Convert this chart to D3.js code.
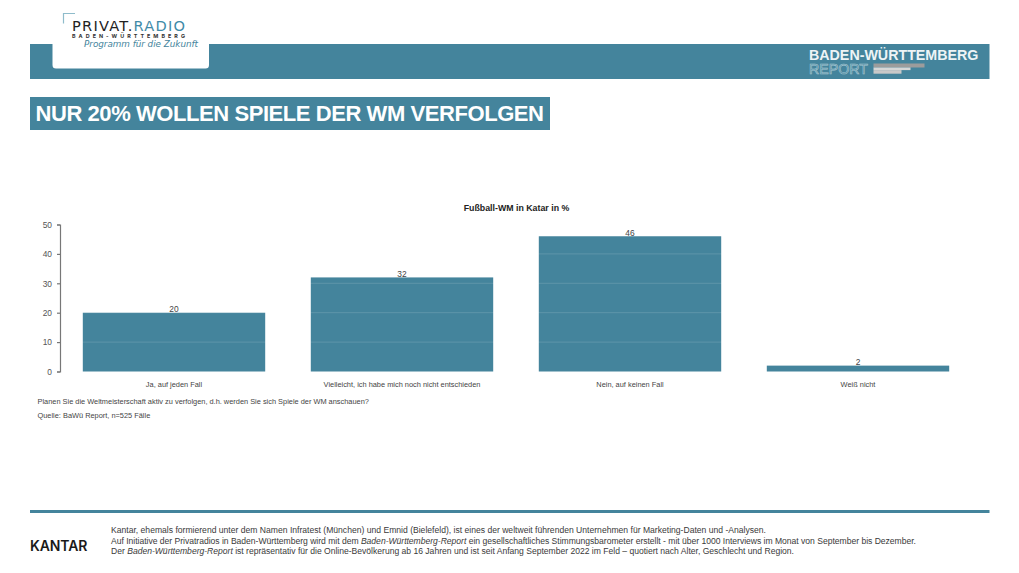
<!DOCTYPE html>
<html>
<head>
<meta charset="utf-8">
<script src="https://cdn.jsdelivr.net/npm/d3@7"></script>
<style>
  html, body { margin: 0; padding: 0; background: #fff; }
  svg { display: block; }
  text { font-family: "Liberation Sans", Arial, sans-serif; }
</style>
</head>
<body>
<svg id="chart" width="1019" height="573"></svg>
<script>
const categories = ["Ja, auf jeden Fall", "Vielleicht, ich habe mich noch nicht entschieden", "Nein, auf keinen Fall", "Weiß nicht"];
const percentages = [20, 32, 46, 2];
const yTicks = [0, 10, 20, 30, 40, 50];
const chartTitle = "Fußball-WM in Katar in %";
const headline = "NUR 20% WOLLEN SPIELE DER WM VERFOLGEN";
const question = "Planen Sie die Weltmeisterschaft aktiv zu verfolgen, d.h. werden Sie sich Spiele der WM anschauen?";
const source = "Quelle: BaWü Report, n=525 Fälle";
const footerLines = [
    [["Kantar, ehemals formierend unter dem Namen Infratest (München) und Emnid (Bielefeld), ist eines der weltweit führenden Unternehmen für Marketing-Daten und -Analysen.", false]],
    [["Auf Initiative der Privatradios in Baden-Württemberg wird mit dem ", false], ["Baden-Württemberg-Report", true], [" ein gesellschaftliches Stimmungsbarometer erstellt - mit über 1000 Interviews im Monat von September bis Dezember.", false]],
    [["Der ", false], ["Baden-Württemberg-Report", true], [" ist repräsentativ für die Online-Bevölkerung ab 16 Jahren und ist seit Anfang September 2022 im Feld – quotiert nach Alter, Geschlecht und Region.", false]]
];

const teal = "#44849c";
const svg = d3.select("#chart");

// page furniture
svg.append("rect").attr("x", 30).attr("y", 44).attr("width", 959.5).attr("height", 35).attr("fill", teal);
svg.append("path")
    .attr("d", "M52.5,44V65a3.5,3.5 0 0 0 3.5,3.5H205.5a3.5,3.5 0 0 0 3.5,-3.5V44Z")
    .attr("fill", "#fff");

// logo
svg.append("path").attr("d", "M63.5,23.5V13.5H75").attr("fill", "none").attr("stroke", "#8fbccb").attr("stroke-width", 1.2);
const logo = svg.append("text").attr("x", 72).attr("y", 30.5).attr("font-size", 14.6)
    .attr("textLength", 113).style("font-family", "DejaVu Sans");
logo.append("tspan").attr("fill", "#222").text("PRIVAT.");
logo.append("tspan").attr("fill", "#3f8ba8").text("RADIO");
svg.append("text").attr("x", 72).attr("y", 37.5).attr("font-size", 5.4).attr("font-weight", 700)
    .attr("fill", "#333").attr("textLength", 113).style("font-family", "Inter").text("BADEN-WÜRTTEMBERG");
svg.append("text").attr("x", 84).attr("y", 47).attr("font-size", 8.8).attr("font-style", "italic")
    .attr("fill", "#44849c").attr("textLength", 114).style("font-family", "DejaVu Sans").text("Programm für die Zukunft");

// report mark, right side of the band
svg.append("text").attr("x", 809).attr("y", 60).attr("font-size", 14.25).attr("font-weight", 700)
    .attr("fill", "#eef4f6").text("BADEN-WÜRTTEMBERG");
svg.append("text").attr("x", 809).attr("y", 73.5).attr("font-size", 14.2)
    .attr("fill", "none").attr("stroke", "#a9c8d3").attr("stroke-width", 0.6).text("REPORT");
svg.append("rect").attr("x", 873.5).attr("y", 63.5).attr("width", 51).attr("height", 4).attr("fill", "#9c9c9c");
svg.append("rect").attr("x", 873.5).attr("y", 67.5).attr("width", 37).attr("height", 2.6).attr("fill", "#d6d6d6");
svg.append("rect").attr("x", 873.5).attr("y", 70.1).attr("width", 28).attr("height", 3.6).attr("fill", "#c8c8c8");

// headline
svg.append("rect").attr("x", 30).attr("y", 97).attr("width", 520).attr("height", 33).attr("fill", teal);
svg.append("text").attr("x", 35.5).attr("y", 121).attr("font-size", 22).attr("font-weight", 700)
    .attr("textLength", 508.5).attr("fill", "#fff").text(headline);

// chart
const x = d3.scaleBand().domain(categories).range([60, 972]).paddingInner(0.2).paddingOuter(0.1);
const y = d3.scaleLinear().domain([0, 50]).range([371.5, 224.5]);

svg.append("text").attr("x", 516.5).attr("y", 210.5).attr("text-anchor", "middle")
    .attr("font-size", 8.8).attr("font-weight", 700).attr("fill", "#222").text(chartTitle);

svg.selectAll(".bar").data(percentages).join("rect")
    .attr("class", "bar")
    .attr("x", (d, i) => x(categories[i]))
    .attr("y", d => y(d))
    .attr("width", x.bandwidth())
    .attr("height", d => y(0) - y(d))
    .attr("fill", teal);

// the grid shows only on top of the bars, white on white elsewhere
svg.selectAll(".grid").data(yTicks.slice(1, -1)).join("line")
    .attr("class", "grid")
    .attr("x1", 60).attr("x2", 972)
    .attr("y1", d => y(d)).attr("y2", d => y(d))
    .attr("stroke", "#fff").attr("stroke-opacity", 0.14).attr("stroke-width", 1);

svg.selectAll(".value").data(percentages).join("text")
    .attr("class", "value")
    .attr("x", (d, i) => x(categories[i]) + x.bandwidth() / 2)
    .attr("y", d => y(d) - 0.5)
    .attr("text-anchor", "middle")
    .attr("font-size", 8.4).attr("fill", "#444")
    .text(d => d);

const yAxis = svg.append("g").attr("transform", "translate(60,0)")
    .call(d3.axisLeft(y).tickValues(yTicks).tickSize(3).tickSizeOuter(3).tickPadding(5));
yAxis.selectAll("path, line").attr("stroke", "#777").attr("stroke-width", 1.2);
yAxis.selectAll("text").attr("font-size", 8.4).attr("fill", "#555")
    .style("font-family", '"Liberation Sans"');

const xAxis = svg.append("g").attr("transform", "translate(0,371.5)")
    .call(d3.axisBottom(x).tickSize(0).tickPadding(10));
xAxis.select(".domain").remove();
xAxis.selectAll("text").attr("font-size", 7.4).attr("fill", "#444")
    .style("font-family", '"Liberation Sans"');

svg.append("text").attr("x", 37.5).attr("y", 404).attr("font-size", 7.4).attr("fill", "#444").text(question);
svg.append("text").attr("x", 37.5).attr("y", 418).attr("font-size", 7.4).attr("fill", "#444").text(source);

// footer
svg.append("rect").attr("x", 30).attr("y", 510).attr("width", 959.5).attr("height", 3).attr("fill", teal);
svg.append("text").attr("x", 30).attr("y", 550.5).attr("font-size", 14).attr("font-weight", 600)
    .attr("textLength", 57.5).attr("fill", "#1a1a1a").style("font-family", "Inter").text("KANTAR");

const footerWidths = [655, 805, 683];
footerLines.forEach((parts, i) => {
    const line = svg.append("text").attr("x", 111).attr("y", 533 + i * 10.6)
        .attr("font-size", 8.58).attr("fill", "#3a3a3a").attr("textLength", footerWidths[i]);
    parts.forEach(([txt, italic]) => {
        line.append("tspan").attr("font-style", italic ? "italic" : "normal").text(txt);
    });
});
</script>
</body>
</html>
